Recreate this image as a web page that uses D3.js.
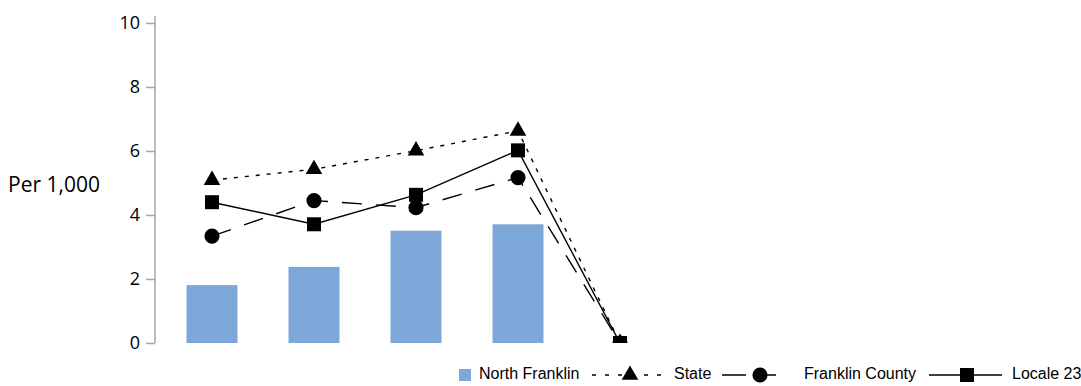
<!DOCTYPE html>
<html>
<meta charset="utf-8">
<head>
    <title>Per 1,000</title>
    <script src="https://d3js.org/d3.v7.min.js"></script>
    <style>
    body { margin: 0; background: #fff; }
    text { font-family: "Open Sans", sans-serif; fill: #000; }
    .legend text { font-family: "Liberation Sans", Arial, sans-serif; font-size: 16px; }
    </style>
</head>
<body>
<script>

// Data
var categories = ["1", "2", "3", "4", "5"];
var northFranklin = [1.81, 2.38, 3.51, 3.71, 0];
var state = [5.09, 5.43, 6.01, 6.63, 0];
var franklinCounty = [3.34, 4.45, 4.23, 5.17, 0];
var locale23 = [4.40, 3.71, 4.63, 6.02, 0];
var yTicks = [0, 2, 4, 6, 8, 10];

var width = 1081, height = 386;

var svg = d3.select("body").append("svg")
    .attr("width", width)
    .attr("height", height);

// Scales
var x = d3.scaleBand()
    .domain(categories)
    .range([161, 671])
    .paddingInner(0.5)
    .paddingOuter(0.25);

var y = d3.scaleLinear()
    .domain([0, 10])
    .range([343, 23]);

// clip the plot area at the zero line
svg.append("clipPath").attr("id", "plot")
    .append("rect").attr("x", 155).attr("y", 0).attr("width", 900).attr("height", 343);

// y axis
var yAxis = svg.append("g")
    .attr("transform", "translate(155,0)")
    .call(d3.axisLeft(y).tickValues(yTicks).tickSize(9).tickPadding(6).tickSizeOuter(0));
yAxis.select(".domain").attr("stroke", "#a6a6a6").attr("stroke-width", 1.5)
    .attr("d", "M0,343V16");
yAxis.selectAll(".tick line").attr("stroke", "#a6a6a6").attr("stroke-width", 1.5);
yAxis.selectAll(".tick text").style("font-size", "18px").style("font-family", "Open Sans");

svg.append("text")
    .attr("x", 8).attr("y", 186)
    .attr("dominant-baseline", "middle")
    .style("font-size", "21px")
    .text("Per 1,000");

var plot = svg.append("g").attr("clip-path", "url(#plot)");

// Bars
plot.selectAll("rect.bar")
    .data(northFranklin)
    .enter().append("rect")
    .attr("class", "bar")
    .attr("x", function(d, i) { return x(categories[i]); })
    .attr("width", x.bandwidth())
    .attr("y", function(d) { return y(d); })
    .attr("height", function(d) { return y(0) - y(d); })
    .attr("fill", "#7ea7d9");

var cx = function(d, i) { return x(categories[i]) + x.bandwidth() / 2; };

var line = d3.line()
    .x(cx)
    .y(function(d) { return y(d); });

var series = [
    { name: "State", values: state, dash: "4,7", legendDash: "4,9", symbol: d3.symbolTriangle, size: 120 },
    { name: "Franklin County", values: franklinCounty, dash: "20,14", legendDash: "24,14", symbol: d3.symbolCircle, size: 180 },
    { name: "Locale 23", values: locale23, dash: null, legendDash: null, symbol: d3.symbolSquare, size: 196 }
];

series.forEach(function(s) {
    plot.append("path")
        .datum(s.values)
        .attr("d", line)
        .attr("fill", "none")
        .attr("stroke", "#000")
        .attr("stroke-width", 1.4)
        .attr("stroke-dasharray", s.dash);
});

series.forEach(function(s) {
    plot.selectAll(null)
        .data(s.values)
        .enter().append("path")
        .attr("transform", function(d, i) { return "translate(" + cx(d, i) + "," + y(d) + ")"; })
        .attr("d", d3.symbol().type(s.symbol).size(s.size))
        .attr("fill", "#000");
});

// Legend
var legend = svg.append("g").attr("class", "legend").attr("transform", "translate(0,375)");

legend.append("rect").attr("x", 459).attr("y", -6).attr("width", 12).attr("height", 12).attr("fill", "#7ea7d9");
legend.append("text").attr("x", 479).attr("y", 0).attr("dominant-baseline", "middle")
    .text("North Franklin");

var legendItems = [
    { s: series[0], x0: 592, x1: 662, mx: 630, tx: 674 },
    { s: series[1], x0: 722, x1: 776, mx: 760, tx: 804 },
    { s: series[2], x0: 929, x1: 1002, mx: 967, tx: 1012 }
];

legendItems.forEach(function(l) {
    legend.append("line")
        .attr("x1", l.x0).attr("x2", l.x1).attr("y1", 0).attr("y2", 0)
        .attr("stroke", "#000").attr("stroke-width", 1.4)
        .attr("stroke-dasharray", l.s.legendDash);
    legend.append("path")
        .attr("transform", "translate(" + l.mx + ",0)")
        .attr("d", d3.symbol().type(l.s.symbol).size(l.s.size))
        .attr("fill", "#000");
    legend.append("text").attr("x", l.tx).attr("y", 0).attr("dominant-baseline", "middle")
        .text(l.s.name);
});

</script>
</body>
</html>
